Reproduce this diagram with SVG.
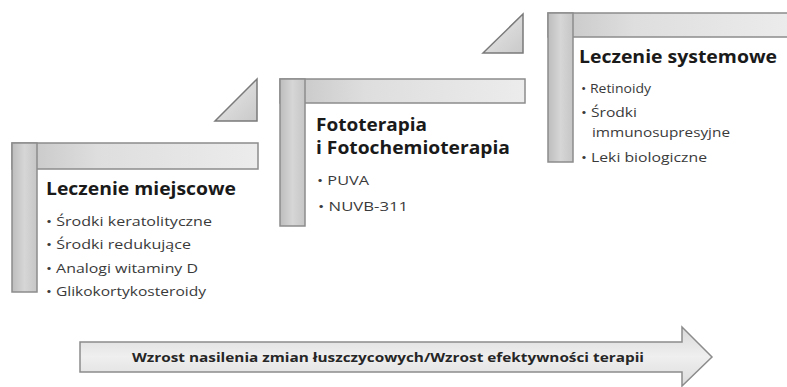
<svg xmlns="http://www.w3.org/2000/svg" width="787" height="387" viewBox="0 0 787 387">
<defs>
<linearGradient id="gTop" x1="0" y1="0" x2="1" y2="0">
<stop offset="0" stop-color="#c4c4c4"/>
<stop offset="0.35" stop-color="#dedede"/>
<stop offset="1" stop-color="#ececec"/>
</linearGradient>
<linearGradient id="gSide" x1="0" y1="0" x2="1" y2="0">
<stop offset="0" stop-color="#bdbdbd"/>
<stop offset="0.5" stop-color="#d6d6d6"/>
<stop offset="1" stop-color="#c6c6c6"/>
</linearGradient>
<linearGradient id="gTri" x1="0" y1="0" x2="1" y2="1">
<stop offset="0" stop-color="#ebebeb"/>
<stop offset="1" stop-color="#c9c9c9"/>
</linearGradient>
<linearGradient id="gArrow" x1="0" y1="0" x2="0" y2="1">
<stop offset="0" stop-color="#d9d9d9"/>
<stop offset="0.5" stop-color="#efefef"/>
<stop offset="1" stop-color="#dcdcdc"/>
</linearGradient>
</defs>
<style>
.top{fill:url(#gTop);stroke:#8c8c8c;stroke-width:1.5}
.side{fill:url(#gSide);stroke:#8c8c8c;stroke-width:1.5}
.tri{fill:url(#gTri);stroke:#7a7a7a;stroke-width:1.5}
.hd{font-family:"Open Sans","Liberation Sans",sans-serif;font-weight:bold;font-size:17px;fill:#1a1a1a}
.it{font-family:"Open Sans","Liberation Sans",sans-serif;font-size:12.5px;fill:#3a3a3a}
.ar{font-family:"Open Sans","Liberation Sans",sans-serif;font-weight:bold;font-size:12px;fill:#262626}
</style>
<rect width="787" height="387" fill="#ffffff"/>

<g id="step1">
<rect class="top" x="12" y="143" width="246" height="26"/>
<rect class="side" x="12" y="143" width="25" height="149"/>
<text class="hd" x="46" y="195" textLength="190" lengthAdjust="spacingAndGlyphs">Leczenie miejscowe</text>
<text class="it" x="46" y="226" textLength="166" lengthAdjust="spacingAndGlyphs">• Środki keratolityczne</text>
<text class="it" x="46" y="249" textLength="145" lengthAdjust="spacingAndGlyphs">• Środki redukujące</text>
<text class="it" x="46" y="273" textLength="152" lengthAdjust="spacingAndGlyphs">• Analogi witaminy D</text>
<text class="it" x="46" y="296" textLength="160" lengthAdjust="spacingAndGlyphs">• Glikokortykosteroidy</text>
</g>

<g id="step2">
<rect class="top" x="280" y="79" width="245" height="24"/>
<rect class="side" x="280" y="79" width="25" height="147"/>
<text class="hd" x="316" y="131" textLength="111" lengthAdjust="spacingAndGlyphs">Fototerapia</text>
<text class="hd" x="316" y="154" textLength="194" lengthAdjust="spacingAndGlyphs">i Fotochemioterapia</text>
<text class="it" x="317" y="185" textLength="52" lengthAdjust="spacingAndGlyphs">• PUVA</text>
<text class="it" x="318" y="211" textLength="90" lengthAdjust="spacingAndGlyphs">•  NUVB-311</text>
</g>

<g id="step3">
<rect class="top" x="548" y="13" width="245" height="24"/>
<rect class="side" x="548" y="13" width="25" height="149"/>
<text class="hd" x="579" y="63" textLength="198" lengthAdjust="spacingAndGlyphs">Leczenie systemowe</text>
<text class="it" x="581" y="93" textLength="70" lengthAdjust="spacingAndGlyphs">• Retinoidy</text>
<text class="it" x="581" y="117" textLength="56" lengthAdjust="spacingAndGlyphs">• Środki</text>
<text class="it" x="592" y="137" textLength="138" lengthAdjust="spacingAndGlyphs">immunosupresyjne</text>
<text class="it" x="581" y="162" textLength="126" lengthAdjust="spacingAndGlyphs">• Leki biologiczne</text>
</g>

<g id="connectors">
<polygon class="tri" points="215,121 257,79 257,121"/>
<polygon class="tri" points="483,53 523,14 523,53"/>
</g>

<g id="arrow">
<polygon points="80,342 682,342 682,327 712,357 682,386 682,372 80,372" fill="url(#gArrow)" stroke="#8c8c8c" stroke-width="1.5"/>
<text class="ar" x="132" y="362" textLength="512" lengthAdjust="spacingAndGlyphs">Wzrost nasilenia zmian łuszczycowych/Wzrost efektywności terapii</text>
</g>
</svg>
